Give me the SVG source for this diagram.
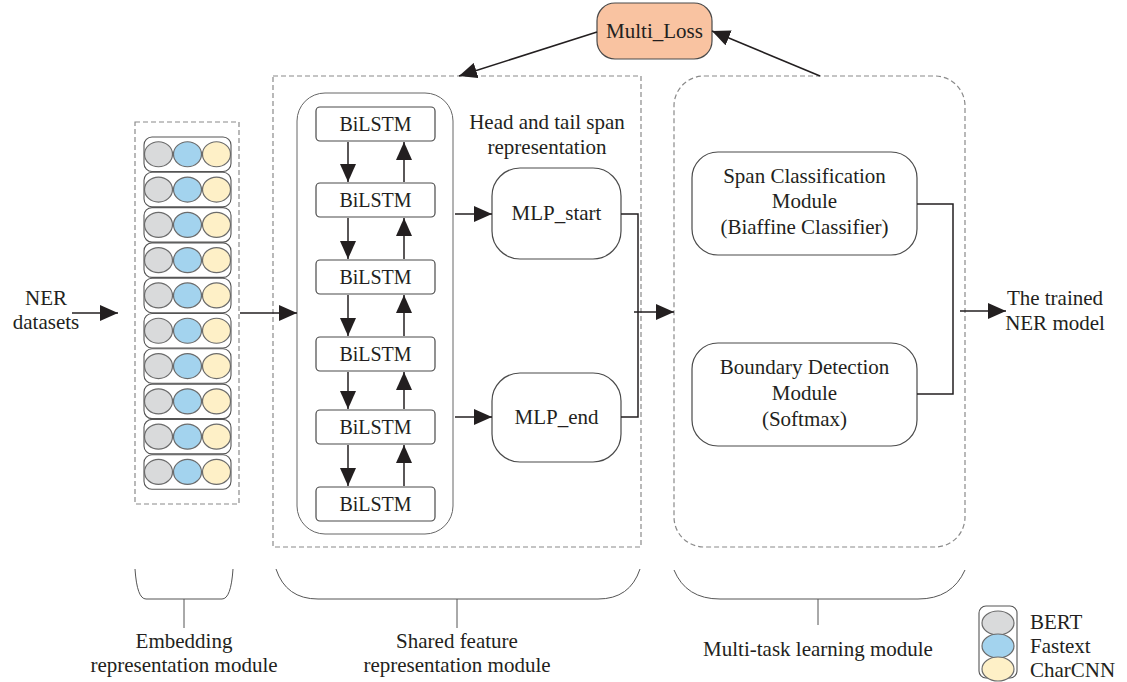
<svg xmlns="http://www.w3.org/2000/svg" width="1127" height="682" viewBox="0 0 1127 682">
<defs>
<style>
text{font-family:"Liberation Serif","DejaVu Serif",serif;fill:#231f20;font-size:21px;text-anchor:middle}
.bl{font-size:20px}
.dash{fill:none;stroke:#8a8a8a;stroke-width:1.2;stroke-dasharray:5,3}
.box{fill:#fff;stroke:#4a4a4a;stroke-width:1.2}
.thin{fill:none;stroke:#666;stroke-width:1}
.ln{fill:none;stroke:#231f20;stroke-width:1.5}
.brace{fill:none;stroke:#555;stroke-width:1}
.g{fill:#d9dadb;stroke:#6b6b6b;stroke-width:1.2}
.b{fill:#a3d3ee;stroke:#6b6b6b;stroke-width:1.2}
.y{fill:#fef0c7;stroke:#6b6b6b;stroke-width:1.2}
.row{fill:#fff;stroke:#555;stroke-width:1.1}
</style>
<marker id="ahb" viewBox="0 0 18 16" refX="18" refY="8" markerWidth="18" markerHeight="16" markerUnits="userSpaceOnUse" orient="auto">
<path d="M0,0 L18,8 L0,16 z" fill="#231f20"/>
</marker>
<g id="emrow">
<rect class="row" x="144" y="0" width="87" height="34.5" rx="8"/>
<ellipse class="g" cx="158.5" cy="17.25" rx="14" ry="12.5"/>
<ellipse class="b" cx="187.5" cy="17.25" rx="14" ry="12.5"/>
<ellipse class="y" cx="216.5" cy="17.25" rx="14" ry="12.5"/>
</g>
</defs>
<rect width="1127" height="682" fill="#fff"/>

<g id="embedding">
<rect class="dash" x="135" y="122" width="104" height="382"/>
<use href="#emrow" y="137"/>
<use href="#emrow" y="172.3"/>
<use href="#emrow" y="207.6"/>
<use href="#emrow" y="242.9"/>
<use href="#emrow" y="278.2"/>
<use href="#emrow" y="313.5"/>
<use href="#emrow" y="348.8"/>
<use href="#emrow" y="384.1"/>
<use href="#emrow" y="419.4"/>
<use href="#emrow" y="454.7"/>
</g>

<g id="shared">
<rect class="dash" x="273" y="76" width="368" height="471"/>
<rect class="thin" x="297" y="93" width="156" height="441" rx="28"/>
</g>

<g id="bilstm1"><rect class="box" x="316" y="107" width="119" height="34" rx="4"/><text class="bl" x="375.5" y="131">BiLSTM</text></g>
<g id="bilstm2"><rect class="box" x="316" y="183" width="119" height="34" rx="4"/><text class="bl" x="375.5" y="207">BiLSTM</text></g>
<g id="bilstm3"><rect class="box" x="316" y="260" width="119" height="34" rx="4"/><text class="bl" x="375.5" y="284">BiLSTM</text></g>
<g id="bilstm4"><rect class="box" x="316" y="337" width="119" height="34" rx="4"/><text class="bl" x="375.5" y="361">BiLSTM</text></g>
<g id="bilstm5"><rect class="box" x="316" y="410" width="119" height="34" rx="4"/><text class="bl" x="375.5" y="434">BiLSTM</text></g>
<g id="bilstm6"><rect class="box" x="316" y="487" width="119" height="34" rx="4"/><text class="bl" x="375.5" y="511">BiLSTM</text></g>

<g id="head-label"><text x="547" y="129">Head and tail span</text><text x="547" y="154">representation</text></g>
<g id="mlp-start"><rect class="box" x="492" y="168" width="129" height="91" rx="28"/><text x="556.5" y="220">MLP_start</text></g>
<g id="mlp-end"><rect class="box" x="492" y="373" width="129" height="89" rx="28"/><text x="556.5" y="424">MLP_end</text></g>

<g id="multitask">
<rect class="dash" x="674" y="76" width="291" height="471" rx="30"/>
</g>
<g id="span-cls"><rect class="box" x="692" y="152" width="225" height="103" rx="26"/>
<text x="804.5" y="183">Span Classification</text><text x="804.5" y="208">Module</text><text x="804.5" y="234">(Biaffine Classifier)</text></g>
<g id="boundary"><rect class="box" x="692" y="343" width="225" height="103" rx="26"/>
<text x="804.5" y="374">Boundary Detection</text><text x="804.5" y="400">Module</text><text x="804.5" y="426">(Softmax)</text></g>

<g id="multi-loss"><rect x="597" y="3" width="115" height="56" rx="18" fill="#f9c3a1" stroke="#4a4a4a" stroke-width="1.2"/><text x="654.5" y="38">Multi_Loss</text></g>

<g id="ner-in"><text x="46" y="305">NER</text><text x="46" y="329">datasets</text></g>
<g id="ner-out"><text x="1055" y="305">The trained</text><text x="1055" y="330">NER model</text></g>

<g id="connectors">
<line class="ln" x1="72" y1="313" x2="118" y2="313" marker-end="url(#ahb)"/>
<line class="ln" x1="240" y1="313" x2="297" y2="313" marker-end="url(#ahb)"/>
<line class="ln" x1="348" y1="142" x2="348" y2="182" marker-end="url(#ahb)"/>
<line class="ln" x1="348" y1="218" x2="348" y2="259" marker-end="url(#ahb)"/>
<line class="ln" x1="348" y1="295" x2="348" y2="336" marker-end="url(#ahb)"/>
<line class="ln" x1="348" y1="372" x2="348" y2="409" marker-end="url(#ahb)"/>
<line class="ln" x1="348" y1="445" x2="348" y2="486" marker-end="url(#ahb)"/>
<line class="ln" x1="404" y1="182" x2="404" y2="142" marker-end="url(#ahb)"/>
<line class="ln" x1="404" y1="259" x2="404" y2="218" marker-end="url(#ahb)"/>
<line class="ln" x1="404" y1="336" x2="404" y2="295" marker-end="url(#ahb)"/>
<line class="ln" x1="404" y1="409" x2="404" y2="372" marker-end="url(#ahb)"/>
<line class="ln" x1="404" y1="486" x2="404" y2="445" marker-end="url(#ahb)"/>
<line class="ln" x1="455" y1="214" x2="492" y2="214" marker-end="url(#ahb)"/>
<line class="ln" x1="455" y1="417" x2="492" y2="417" marker-end="url(#ahb)"/>
<polyline class="ln" points="621,214 638,214 638,417 621,417"/>
<line class="ln" x1="634" y1="312" x2="674" y2="312" marker-end="url(#ahb)"/>
<polyline class="ln" points="917,204 953,204 953,394 917,394"/>
<line class="ln" x1="960" y1="311" x2="1006" y2="311" marker-end="url(#ahb)"/>
<line class="ln" x1="597" y1="32" x2="459" y2="76" marker-end="url(#ahb)"/>
<line class="ln" x1="820" y1="76" x2="712" y2="31" marker-end="url(#ahb)"/>
</g>

<g id="embed-brace">
<path class="brace" d="M135,569 Q137,599 146,599 L222,599 Q231,599 233,569"/>
<line class="brace" x1="184" y1="599" x2="184" y2="628"/>
<text x="184" y="648">Embedding</text><text x="184" y="672">representation module</text>
</g>
<g id="shared-brace">
<path class="brace" d="M276,569 Q286,599 318,599 L598,599 Q630,599 640,569"/>
<line class="brace" x1="457" y1="599" x2="457" y2="628"/>
<text x="457" y="648">Shared feature</text><text x="457" y="672">representation module</text>
</g>
<g id="mt-brace">
<path class="brace" d="M674,570 Q686,599 720,599 L918,599 Q952,599 965,570"/>
<line class="brace" x1="818" y1="599" x2="818" y2="625"/>
<text x="818" y="656">Multi-task learning module</text>
</g>

<g id="legend">
<rect class="row" x="979" y="606" width="38" height="72" rx="7"/>
<ellipse class="g" cx="998" cy="623" rx="16" ry="12"/>
<ellipse class="b" cx="998" cy="646" rx="16" ry="12"/>
<ellipse class="y" cx="998" cy="669" rx="16" ry="12"/>
<text x="1030" y="629" style="text-anchor:start">BERT</text>
<text x="1030" y="653" style="text-anchor:start">Fastext</text>
<text x="1030" y="677" style="text-anchor:start">CharCNN</text>
</g>
</svg>
